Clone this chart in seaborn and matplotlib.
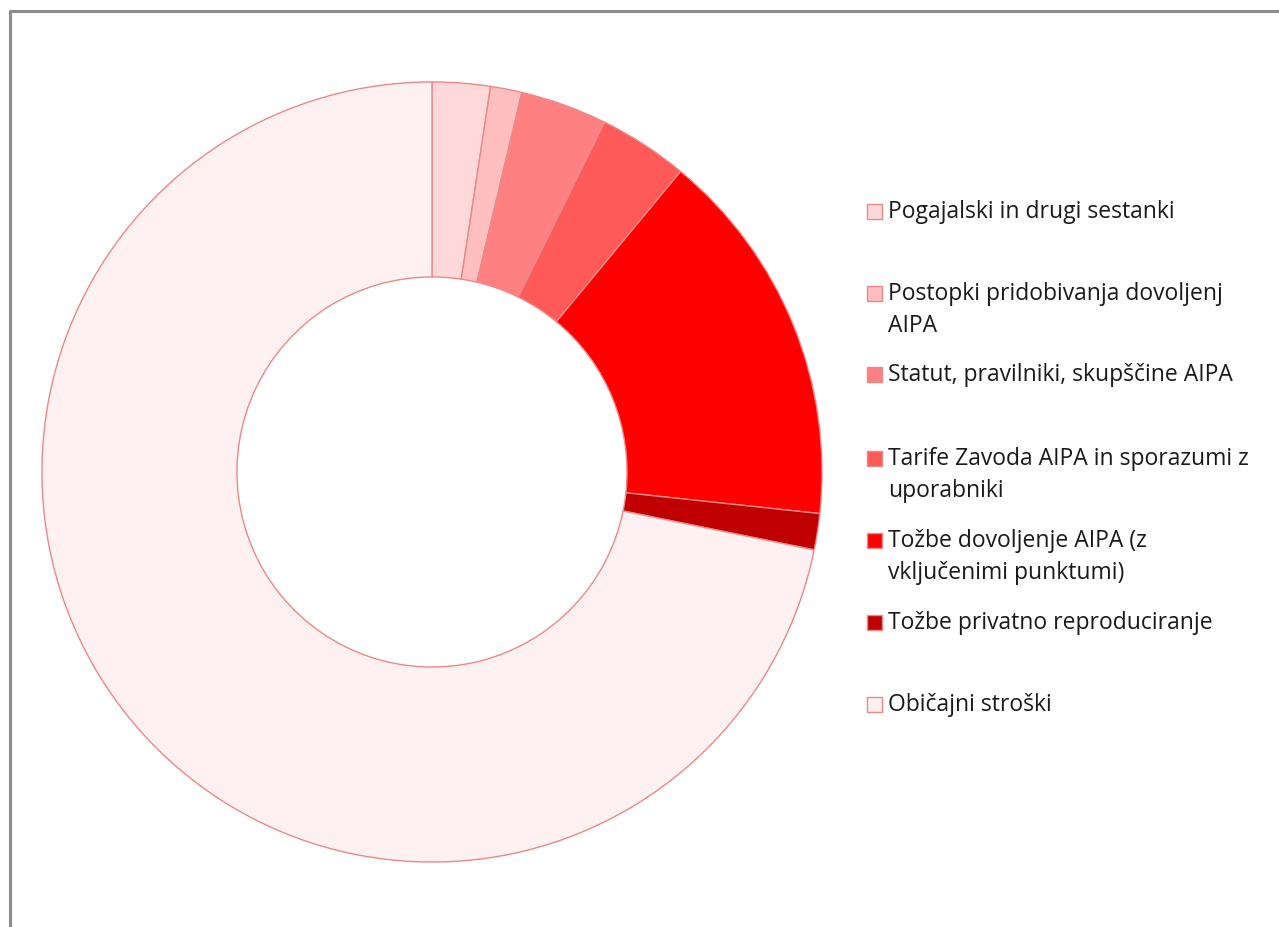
import matplotlib
matplotlib.use("Agg")
import matplotlib.pyplot as plt
import seaborn as sns
from matplotlib.patches import Rectangle
from matplotlib.lines import Line2D

labels = [
    "Pogajalski in drugi sestanki",
    "Postopki pridobivanja dovoljenj\nAIPA",
    "Statut, pravilniki, skupščine AIPA",
    "Tarife Zavoda AIPA in sporazumi z\nuporabniki",
    "Tožbe dovoljenje AIPA (z\nvključenimi punktumi)",
    "Tožbe privatno reproduciranje",
    "Običajni stroški",
]
values = [2.4, 1.3, 3.6, 3.7, 15.7, 1.5, 71.8]
colors = ["#FFD9D9", "#FFBFBF", "#FF8080", "#FF5959", "#FF0000", "#C00000", "#FFF0F1"]

sns.set_theme(style="white")
plt.rcParams["font.family"] = ["Open Sans", "DejaVu Sans"]

W, H = 1279, 928
fig = plt.figure(figsize=(W / 100, H / 100), dpi=100)

cx, cy, R = 432, 473, 392
ax = fig.add_axes([(cx - R) / W, (H - cy - R) / H, 2 * R / W, 2 * R / H])
ax.pie(values, colors=colors, startangle=90, counterclock=False, radius=1,
       wedgeprops=dict(width=0.5, edgecolor="#E98A8A", linewidth=1.0))
ax.set_xlim(-1.005, 1.005)
ax.set_ylim(-1.005, 1.005)
ax.set_aspect("equal")
ax.axis("off")

# frame lines (top and left)
fig.add_artist(Line2D([10 / W, 1], [1 - 12 / H, 1 - 12 / H], transform=fig.transFigure,
                      color="#8C8C8C", linewidth=2.2))
fig.add_artist(Line2D([10 / W, 10 / W], [0, 1 - 12 / H], transform=fig.transFigure,
                      color="#8C8C8C", linewidth=2.2))

# legend (first-line baselines in pixels)
baselines = [218, 300, 381, 465, 547, 629, 711]
gap = 32
for lab, col, yb in zip(labels, colors, baselines):
    ms = 15
    yc = yb - 6
    fig.add_artist(Rectangle((867 / W, 1 - (yc + ms / 2) / H), ms / W, ms / H,
                             transform=fig.transFigure, facecolor=col,
                             edgecolor="#E98A8A", linewidth=1.0))
    for i, line in enumerate(lab.split("\n")):
        fig.text(888 / W, 1 - (yb + i * gap) / H, line, ha="left", va="baseline",
                 fontsize=16.5, color="#1a1a1a")

fig.savefig("out.png", dpi=100, facecolor="white")
